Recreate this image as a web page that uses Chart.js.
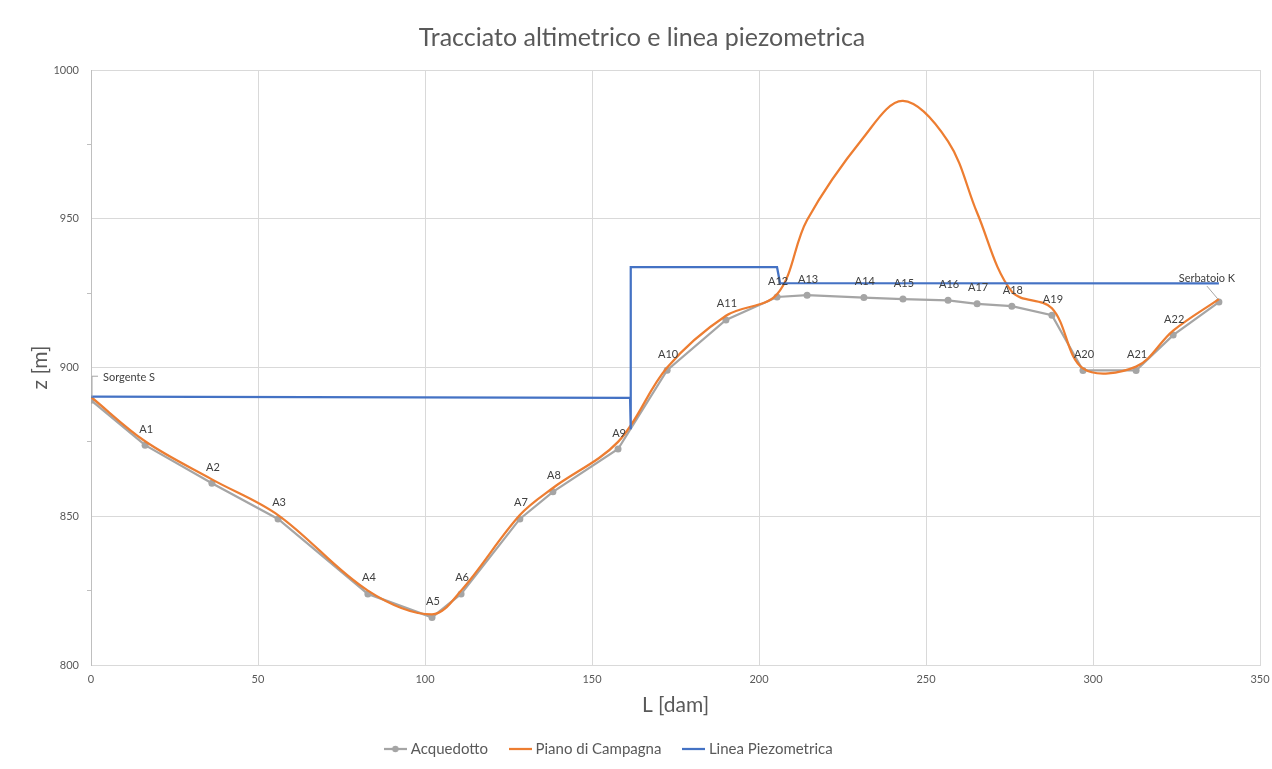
<!DOCTYPE html>
<html>
<head>
<meta charset="utf-8">
<script src="https://cdn.jsdelivr.net/npm/chart.js@4.4.1/dist/chart.umd.min.js"></script>
<style>
  html, body { margin: 0; padding: 0; background: #fff; }
  #wrap { width: 1272px; height: 769px; }
</style>
</head>
<body>
<div id="wrap"><canvas id="grafico"></canvas></div>
<script>
// nomi dei nodi lungo il tracciato
const nomiNodi = ['Sorgente S', 'A1', 'A2', 'A3', 'A4', 'A5', 'A6', 'A7', 'A8', 'A9', 'A10', 'A11',
  'A12', 'A13', 'A14', 'A15', 'A16', 'A17', 'A18', 'A19', 'A20', 'A21', 'A22', 'Serbatoio K'];
// progressive L [dam]
const distanzeL = [0, 16.2, 36.2, 56.0, 82.9, 102.1, 110.8, 128.4, 138.3, 157.8, 172.5, 190.1,
  205.4, 214.4, 231.4, 243.1, 256.6, 265.3, 275.7, 287.7, 297.0, 312.9, 324.0, 337.7];
// quote condotta [m]
const quoteAcquedotto = [889.0, 873.9, 861.1, 849.1, 823.9, 816.0, 823.9, 849.1, 858.2, 872.6, 899.1, 916.0,
  923.7, 924.3, 923.5, 923.0, 922.6, 921.4, 920.6, 917.6, 899.0, 899.0, 910.9, 922.0];
// quote terreno [m]
const quoteCampagna = [890.1, 875.2, 862.4, 850.4, 825.0, 817.0, 825.0, 850.4, 859.5, 875.0, 900.0, 917.4,
  924.6, 949.6, 977.5, 989.6, 976.0, 952.0, 925.5, 919.9, 899.7, 900.3, 912.4, 923.0];
// linea piezometrica
const piezoL = [0, 161.4, 161.6, 161.6, 205.4, 206.3, 337.7];
const piezoZ = [890.2, 889.8, 879.2, 933.7, 933.7, 928.4, 928.3];
// assi
const tickX = [0, 50, 100, 150, 200, 250, 300, 350];
const tickY = [800, 850, 900, 950, 1000];

const FONT = 'Lato, "Open Sans", sans-serif';
const TESTO = '#595959';
const GRIGIO = '#a5a5a5', ARANCIO = '#ed7d31', BLU = '#4472c4';

function punti(xs, ys) {
  return xs.map((x, i) => ({ x: x, y: ys[i] }));
}

// icone legenda (linea, con pallino per l'acquedotto)
function iconaLegenda(colore, pallino) {
  const c = document.createElement('canvas');
  c.width = 23; c.height = 10;
  const g = c.getContext('2d');
  g.strokeStyle = colore;
  g.lineWidth = 2.25;
  g.beginPath(); g.moveTo(0, 5); g.lineTo(23, 5); g.stroke();
  if (pallino) {
    g.fillStyle = colore;
    g.beginPath(); g.arc(11.5, 5, 3.2, 0, Math.PI * 2); g.fill();
  }
  return c;
}
const icone = [iconaLegenda(GRIGIO, true), iconaLegenda(ARANCIO, false), iconaLegenda(BLU, false)];

// legenda un po' spostata a sinistra, come nell'originale
const spostaLegenda = {
  id: 'spostaLegenda',
  beforeDraw(chart) {
    const lg = chart.legend;
    if (lg && !lg._spostata) {
      lg.left -= 32;
      lg.right -= 32;
      lg._spostata = true;
    }
  }
};

// etichette dei nodi sopra la serie Acquedotto
const etichettePlugin = {
  id: 'etichette',
  afterDatasetsDraw(chart) {
    const ctx = chart.ctx;
    const meta = chart.getDatasetMeta(0);
    ctx.save();
    ctx.font = '11px ' + FONT;
    ctx.fillStyle = '#404040';
    ctx.textBaseline = 'middle';
    ctx.strokeStyle = '#a6a6a6';
    ctx.lineWidth = 1;
    meta.data.forEach((pt, i) => {
      const nome = nomiNodi[i];
      if (i === 0) {
        ctx.beginPath();
        ctx.moveTo(pt.x + 1, pt.y - 3);
        ctx.lineTo(pt.x + 1, pt.y - 24);
        ctx.lineTo(pt.x + 7, pt.y - 24);
        ctx.stroke();
        ctx.textAlign = 'left';
        ctx.fillText(nome, pt.x + 12, pt.y - 23);
      } else if (i === meta.data.length - 1) {
        ctx.beginPath();
        ctx.moveTo(pt.x - 1, pt.y - 3);
        ctx.lineTo(pt.x - 12, pt.y - 16);
        ctx.stroke();
        ctx.textAlign = 'center';
        ctx.fillText(nome, pt.x - 12, pt.y - 24);
      } else {
        ctx.textAlign = 'center';
        ctx.fillText(nome, pt.x + 1, pt.y - 16);
      }
    });
    ctx.restore();
  }
};

new Chart(document.getElementById('grafico'), {
  type: 'scatter',
  data: {
    datasets: [
      {
        label: 'Acquedotto',
        data: punti(distanzeL, quoteAcquedotto),
        showLine: true,
        borderColor: GRIGIO,
        backgroundColor: GRIGIO,
        borderWidth: 2.25,
        pointRadius: 3.5,
        pointBorderWidth: 0,
        tension: 0,
        order: 3
      },
      {
        label: 'Piano di Campagna',
        data: punti(distanzeL, quoteCampagna),
        showLine: true,
        borderColor: ARANCIO,
        backgroundColor: ARANCIO,
        borderWidth: 2.25,
        pointRadius: 0,
        tension: 0.35,
        order: 2
      },
      {
        label: 'Linea Piezometrica',
        data: punti(piezoL, piezoZ),
        showLine: true,
        borderColor: BLU,
        backgroundColor: BLU,
        borderWidth: 2.25,
        pointRadius: 0,
        tension: 0,
        order: 1
      }
    ]
  },
  options: {
    responsive: true,
    maintainAspectRatio: false,
    animation: false,
    layout: { padding: { left: 24, right: 12, top: 0, bottom: 2.5 } },
    plugins: {
      tooltip: { enabled: false },
      title: {
        display: true,
        text: 'Tracciato altimetrico e linea piezometrica',
        color: TESTO,
        font: { family: FONT, size: 25, weight: 'normal' },
        padding: { top: 23, bottom: 17 }
      },
      legend: {
        position: 'bottom',
        labels: {
          color: TESTO,
          font: { family: FONT, size: 15 },
          usePointStyle: true,
          pointStyleWidth: 16,
          padding: 24,
          generateLabels: (chart) => chart.data.datasets.map((ds, i) => ({
            text: ds.label,
            pointStyle: icone[i],
            fillStyle: ds.borderColor,
            strokeStyle: ds.borderColor,
            lineWidth: 0,
            hidden: false,
            datasetIndex: i,
            fontColor: TESTO
          }))
        }
      }
    },
    scales: {
      x: {
        type: 'linear',
        min: 0,
        max: 350,
        afterFit: (s) => { s.height = 52.5; s.paddingRight = 0; s.paddingLeft = 0; },
        afterBuildTicks: (s) => { s.ticks = tickX.map(v => ({ value: v })); },
        ticks: { color: TESTO, font: { family: FONT, size: 11 }, padding: 8 },
        grid: { color: '#d9d9d9', drawTicks: false },
        border: { color: '#d9d9d9' },
        title: {
          display: true,
          text: 'L [dam]',
          color: TESTO,
          font: { family: FONT, size: 21 },
          padding: { top: 4, bottom: 0 }
        }
      },
      y: {
        min: 800,
        max: 1000,
        afterFit: (s) => { s.width = 67; s.paddingTop = 0; s.paddingBottom = 0; },
        ticks: {
          stepSize: 25,
          autoSkip: false,
          color: TESTO,
          font: { family: FONT, size: 11 },
          padding: 8,
          callback: (v) => tickY.includes(v) ? String(v) : ''
        },
        grid: {
          color: (c) => (c.tick && tickY.includes(c.tick.value)) ? '#d9d9d9' : 'rgba(0,0,0,0)',
          tickColor: (c) => (c.tick && tickY.includes(c.tick.value)) ? 'rgba(0,0,0,0)' : '#bfbfbf',
          tickLength: 4
        },
        border: { color: '#bfbfbf' },
        title: {
          display: true,
          text: 'z [m]',
          color: TESTO,
          font: { family: FONT, size: 21 },
          padding: { top: 4, bottom: 4 }
        }
      }
    }
  },
  plugins: [spostaLegenda, etichettePlugin]
});
</script>
</body>
</html>
